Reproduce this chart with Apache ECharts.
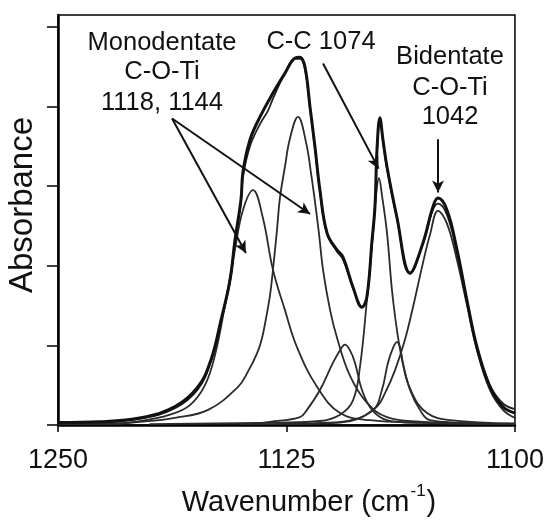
<!DOCTYPE html>
<html><head><meta charset="utf-8">
<script src="https://cdn.jsdelivr.net/npm/echarts@6/dist/echarts.min.js"></script>
<style>html,body{margin:0;padding:0;background:#fff}#c{width:547px;height:520px}</style>
</head><body><div id="c"></div>
<script>
// axis ticks
const xTickValues = [1250, 1125, 1000];
const xTickLabels = ['1250', '1125', '1100'];
const yTickValues = [0, 1, 2, 3, 4, 5];

// measured spectrum [wavenumber, absorbance]
const measured = [[1250,0.03],[1227,0.04],[1204.6,0.09],[1186,0.23],[1173.4,0.48],[1166.3,0.82],[1160.8,1.32],[1155.9,1.82],[1153.2,2.32],[1149.9,2.83],[1148.8,3.18],[1145,3.58],[1139.5,3.87],[1132.4,4.17],[1125.8,4.42],[1120.3,4.61],[1117.6,4.62],[1114.9,4.50],[1112.1,3.99],[1109.4,3.49],[1106.7,2.95],[1102.8,2.41],[1097.4,2.20],[1094.1,2.11],[1088.6,1.73],[1083.7,1.48],[1081,1.61],[1078.2,2.32],[1076.6,2.74],[1075.5,3.45],[1073.9,3.86],[1072.2,3.58],[1070,3.24],[1064.6,2.61],[1057.4,1.91],[1050.3,2.29],[1044.9,2.74],[1042.1,2.85],[1037.2,2.70],[1031.7,2.20],[1026.3,1.57],[1020.8,0.98],[1013.7,0.48],[1006.6,0.23],[1000,0.15]];
// fitted sum
const fitSum = [[1250,0.02],[1227,0.03],[1204.6,0.08],[1186,0.21],[1173.4,0.45],[1166.3,0.80],[1160.8,1.30],[1155.9,1.80],[1153.2,2.30],[1149.9,2.80],[1148.8,3.12],[1145,3.50],[1139.5,3.78],[1135.1,3.95],[1132.4,4.10],[1125.8,4.42],[1120.3,4.60],[1117.6,4.60],[1114.9,4.47],[1112.1,3.97],[1109.4,3.47],[1106.7,2.93],[1102.8,2.40],[1097.4,2.18],[1094.1,2.08],[1088.6,1.72],[1083.7,1.48],[1081,1.60],[1078.2,2.30],[1076.6,2.72],[1075.5,3.42],[1073.9,3.84],[1072.2,3.56],[1070,3.22],[1064.6,2.60],[1057.4,1.90],[1050.3,2.28],[1044.9,2.70],[1042.1,2.78],[1037.2,2.64],[1031.7,2.16],[1026.3,1.55],[1020.8,0.98],[1013.7,0.50],[1006.6,0.27],[1000,0.20]];
// component bands
const band1144 = [[1250,0.01],[1227,0.01],[1205.1,0.05],[1188.7,0.13],[1177.8,0.25],[1169.6,0.50],[1164.1,0.88],[1158.6,1.51],[1153.2,2.20],[1148.8,2.70],[1143.3,2.95],[1137.9,2.60],[1132.4,1.95],[1125.8,1.44],[1119.3,0.98],[1108.3,0.48],[1095.7,0.15],[1079.3,0.06],[1052,0.03],[1000,0.01]];
const band1118 = [[1250,0.01],[1227,0.01],[1205.1,0.04],[1186,0.09],[1167.9,0.19],[1151.5,0.48],[1146.1,0.67],[1141.1,0.90],[1138.4,1.09],[1136.2,1.34],[1134.0,1.63],[1132.4,1.95],[1130.2,2.45],[1128.6,2.85],[1125.8,3.25],[1123.1,3.60],[1118.7,3.87],[1114.3,3.55],[1111.5,3.15],[1109.4,2.80],[1107.2,2.40],[1105.0,1.95],[1101.2,1.45],[1097.4,1.10],[1090.3,0.62],[1081,0.28],[1070,0.10],[1050,0.04],[1000,0.01]];
const band1093 = [[1145,0.01],[1134,0.04],[1117.6,0.10],[1113.8,0.19],[1106.7,0.44],[1099.6,0.78],[1095.7,0.94],[1093,1.01],[1090.3,0.94],[1087.5,0.78],[1083.7,0.44],[1078.2,0.19],[1070,0.06],[1057.4,0.03],[1000,0.01]];
const band1074 = [[1200,0.01],[1128.6,0.03],[1106.7,0.05],[1095.7,0.13],[1088.6,0.31],[1084.8,0.73],[1081,1.57],[1077.7,2.41],[1076,2.89],[1074.4,3.10],[1072.8,2.89],[1070,2.41],[1066.7,1.57],[1061.8,0.82],[1056.3,0.40],[1048.1,0.15],[1035.6,0.06],[1000,0.02]];
const band1065 = [[1130,0.01],[1095.7,0.03],[1077.7,0.19],[1072.8,0.44],[1069.5,0.78],[1066.7,0.97],[1064.6,1.04],[1062.9,0.98],[1061.3,0.78],[1057.4,0.44],[1052,0.19],[1046.5,0.06],[1030.1,0.03],[1000,0.01]];
const band1042 = [[1150,0.01],[1101.2,0.03],[1084.8,0.09],[1075.5,0.23],[1071.1,0.40],[1065.6,0.69],[1060.2,1.07],[1055.8,1.48],[1050.3,2.04],[1046.5,2.39],[1042.1,2.69],[1037.2,2.53],[1031.7,2.07],[1026.3,1.51],[1020.8,0.94],[1013.7,0.44],[1006.6,0.19],[1000,0.09]];

// annotation arrows [from, to] in data units
const arrows = [
  [[1187.6,3.85],[1147.2,2.16]],
  [[1187.6,3.85],[1112.1,2.65]],
  [[1105,4.54],[1074.6,3.22]],
  [[1042.1,3.59],[1042.1,2.92]]
];
const annoLabels = [
  {text:'Monodentate', x:162, y:43},
  {text:'C-O-Ti', x:162, y:72},
  {text:'1118, 1144', x:162, y:103},
  {text:'C-C 1074', x:321, y:42},
  {text:'Bidentate', x:450, y:57},
  {text:'C-O-Ti', x:450, y:88},
  {text:'1042', x:450, y:117}
];

const FONT = '"Liberation Sans", Arial, sans-serif';
const chart = echarts.init(document.getElementById('c'), null, {renderer:'canvas'});

function line(data, w, c) {
  return {type:'line', data, showSymbol:false, smooth:0.4, animation:false, silent:true,
    lineStyle:{width:w, color:c}, z: 3};
}

chart.setOption({
  animation:false,
  backgroundColor:'#fff',
  grid:{left:58, right:32, top:15, bottom:95, show:true, borderColor:'#000', borderWidth:1.5},
  xAxis:{type:'value', min:1000, max:1250, interval:125, inverse:true,
    axisLine:{lineStyle:{color:'#000', width:2.5}},
    axisTick:{show:true, length:7, lineStyle:{color:'#000', width:1.5}},
    axisLabel:{margin:22, fontSize:27, color:'#111', fontFamily:FONT,
      formatter: v => { const i = xTickValues.indexOf(v); return i >= 0 ? xTickLabels[i] : ''; }},
    splitLine:{show:false}},
  yAxis:{type:'value', min:0, max:5.15,
    axisLine:{show:true, lineStyle:{color:'#000', width:2.5}},
    axisTick:{show:true, length:11, customValues:yTickValues, lineStyle:{color:'#000', width:1.5}},
    axisLabel:{show:false},
    splitLine:{show:false}},
  series:[
    line(band1144, 1.8, '#2b2b2b'),
    line(band1118, 1.8, '#2b2b2b'),
    line(band1093, 1.8, '#2b2b2b'),
    line(band1074, 1.8, '#2b2b2b'),
    line(band1065, 1.8, '#2b2b2b'),
    line(band1042, 1.8, '#2b2b2b'),
    line(fitSum, 1.8, '#222'),
    line(measured, 3, '#111'),
    {type:'line', data:[], silent:true, animation:false,
      markLine:{silent:true, animation:false, symbol:['none','arrow'], symbolSize:[9,12],
        label:{show:false}, lineStyle:{color:'#111', width:2, type:'solid'},
        emphasis:{disabled:true},
        data: arrows.map(a => [{coord:a[0]}, {coord:a[1]}])}}
  ],
  graphic:[
    ...annoLabels.map(l => ({type:'text', x:l.x, y:l.y, silent:true,
      style:{text:l.text, fill:'#111', font:'25.5px ' + FONT, textAlign:'center', textVerticalAlign:'middle'}})),
    {type:'text', x:23, y:205, rotation:Math.PI/2, silent:true,
      style:{text:'Absorbance', fill:'#111', font:'33px ' + FONT, textAlign:'center', textVerticalAlign:'middle'}},
    {type:'text', x:309, y:500, silent:true,
      style:{text:'{n|Wavenumber (cm}{s|-1}{n|)}', textAlign:'center', textVerticalAlign:'middle',
        rich:{n:{fontSize:29, fontFamily:FONT, fill:'#111', lineHeight:34, verticalAlign:'bottom'},
              s:{fontSize:17, fontFamily:FONT, fill:'#111', lineHeight:34, verticalAlign:'top', padding:[0,1,0,1]}}}}
  ]
});
</script></body></html>
